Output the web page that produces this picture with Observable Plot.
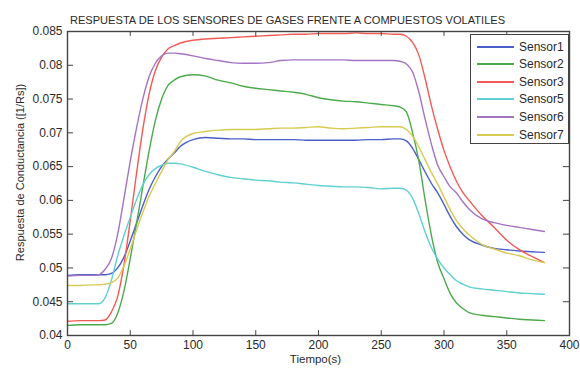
<!DOCTYPE html>
<html>
<head>
<meta charset="utf-8">
<script src="https://cdn.jsdelivr.net/npm/d3@7"></script>
<script src="https://cdn.jsdelivr.net/npm/@observablehq/plot@0.6"></script>
<style>
  body { margin: 0; background: #fff; font-family: "Liberation Sans", Arial, sans-serif; }
  #wrap { position: relative; width: 580px; height: 371px; }
  #legend { position: absolute; left: 470px; top: 34px; width: 97px; height: 108px; border: 1.5px solid #444; background: #fff; }
  .row { position: absolute; left: 0; height: 16px; display: flex; align-items: center; font-size: 12px; color: #2a2a2a; }
  .sw { width: 37px; height: 0; border-top: 2px solid; margin-left: 6px; margin-right: 5px; }
</style>
</head>
<body>
<div id="wrap"><div id="legend"></div></div>
<script>
const title = "RESPUESTA DE LOS SENSORES DE GASES FRENTE A COMPUESTOS VOLATILES";
const xLabel = "Tiempo(s)";
const yLabel = "Respuesta de Conductancia ([1/Rs])";
const xTicks = [0, 50, 100, 150, 200, 250, 300, 350, 400];
const yTicks = [0.04, 0.045, 0.05, 0.055, 0.06, 0.065, 0.07, 0.075, 0.08, 0.085];
const sensors = ["Sensor1", "Sensor2", "Sensor3", "Sensor5", "Sensor6", "Sensor7"];
const colors = ["#4b5fc8", "#4caa4c", "#f25a55", "#60d0d2", "#a474c4", "#d6ca50"];

const time = [0,10,20,25,30,35,40,45,50,55,60,65,70,75,80,85,90,100,110,120,130,140,150,160,170,180,190,200,210,220,230,240,250,260,265,270,275,280,285,290,295,300,305,310,315,320,330,340,350,360,370,380];

const sensor1 = [0.0489,0.0490,0.0490,0.0490,0.0490,0.0492,0.0500,0.0516,0.0540,0.0566,0.0592,0.0616,0.0635,0.0650,0.0661,0.0670,0.0680,0.0690,0.0693,0.0692,0.0691,0.0691,0.0690,0.0690,0.0690,0.0690,0.0689,0.0689,0.0689,0.0689,0.0689,0.0690,0.0690,0.0691,0.0691,0.0688,0.0677,0.0660,0.0642,0.0625,0.0611,0.0594,0.0576,0.0561,0.0550,0.0542,0.0534,0.0529,0.0527,0.0525,0.0524,0.0523];
const sensor2 = [0.0415,0.0416,0.0416,0.0416,0.0416,0.0418,0.0433,0.0466,0.0514,0.0566,0.0620,0.0673,0.0718,0.0750,0.0770,0.0778,0.0783,0.0786,0.0784,0.0778,0.0774,0.0769,0.0766,0.0764,0.0762,0.0760,0.0757,0.0752,0.0749,0.0747,0.0746,0.0744,0.0742,0.0740,0.0738,0.0731,0.0700,0.0658,0.0600,0.0548,0.0508,0.0484,0.0462,0.0448,0.0440,0.0434,0.0430,0.0428,0.0426,0.0424,0.0423,0.0422];
const sensor3 = [0.0421,0.0422,0.0422,0.0422,0.0423,0.0435,0.0458,0.0505,0.0570,0.0640,0.0705,0.0757,0.0792,0.0812,0.0824,0.0829,0.0833,0.0837,0.0839,0.0840,0.0841,0.0842,0.0843,0.0844,0.0845,0.0846,0.0846,0.0847,0.0847,0.0847,0.0848,0.0847,0.0847,0.0846,0.0846,0.0843,0.0834,0.0815,0.0780,0.0740,0.0705,0.0674,0.0649,0.0628,0.0612,0.0600,0.0578,0.0560,0.0541,0.0527,0.0517,0.0508];
const sensor5 = [0.0447,0.0447,0.0447,0.0447,0.0456,0.0482,0.0518,0.0548,0.0575,0.0601,0.0623,0.0638,0.0647,0.0652,0.0655,0.0655,0.0654,0.0649,0.0643,0.0638,0.0634,0.0632,0.0630,0.0629,0.0627,0.0626,0.0624,0.0622,0.0621,0.0620,0.0620,0.0619,0.0617,0.0618,0.0618,0.0615,0.0603,0.0580,0.0553,0.0530,0.0513,0.0500,0.0490,0.0481,0.0476,0.0472,0.0469,0.0467,0.0465,0.0463,0.0462,0.0461];
const sensor6 = [0.0488,0.0489,0.0489,0.0490,0.0498,0.0514,0.0550,0.0603,0.0658,0.0707,0.0750,0.0783,0.0803,0.0814,0.0818,0.0818,0.0817,0.0814,0.0810,0.0807,0.0804,0.0803,0.0803,0.0804,0.0807,0.0808,0.0808,0.0808,0.0808,0.0808,0.0807,0.0807,0.0807,0.0807,0.0806,0.0802,0.0790,0.0760,0.0720,0.0683,0.0652,0.0635,0.0620,0.0611,0.0598,0.0587,0.0573,0.0567,0.0563,0.0560,0.0557,0.0554];
const sensor7 = [0.0474,0.0474,0.0475,0.0475,0.0476,0.0478,0.0485,0.0503,0.0528,0.0556,0.0582,0.0606,0.0625,0.0643,0.0660,0.0672,0.0687,0.0699,0.0702,0.0704,0.0705,0.0705,0.0705,0.0706,0.0707,0.0707,0.0708,0.0709,0.0707,0.0706,0.0707,0.0708,0.0709,0.0709,0.0709,0.0705,0.0695,0.0679,0.0660,0.0641,0.0624,0.0605,0.0586,0.0570,0.0558,0.0549,0.0535,0.0528,0.0522,0.0518,0.0512,0.0508];

const series = [sensor1, sensor2, sensor3, sensor5, sensor6, sensor7];
const data = [];
series.forEach((vals, i) => vals.forEach((v, j) => data.push({sensor: sensors[i], t: time[j], v})));

const xMin = 0, xMax = 400, yMin = 0.04, yMax = 0.085;
const tickX = (xMax - xMin) * 0.012;
const tickY = (yMax - yMin) * 0.016;

const chart = Plot.plot({
  width: 580,
  height: 371,
  marginLeft: 67,
  marginRight: 11,
  marginTop: 31,
  marginBottom: 36,
  style: {fontFamily: "'Liberation Sans', Arial, sans-serif", fontSize: "12px", color: "#2a2a2a", background: "#fff"},
  x: {domain: [xMin, xMax], label: null},
  y: {domain: [yMin, yMax], label: null},
  color: {domain: sensors, range: colors},
  marks: [
    Plot.line(data, {x: "t", y: "v", stroke: "sensor", z: "sensor", strokeWidth: 1.4, curve: "monotone-x"}),
    Plot.ruleX(xTicks, {x: d => d, y1: yMin, y2: yMin + tickY, stroke: "#444"}),
    Plot.ruleX(xTicks, {x: d => d, y1: yMax, y2: yMax - tickY, stroke: "#444"}),
    Plot.ruleY(yTicks, {y: d => d, x1: xMin, x2: xMin + tickX, stroke: "#444"}),
    Plot.ruleY(yTicks, {y: d => d, x1: xMax, x2: xMax - tickX, stroke: "#444"}),
    Plot.frame({stroke: "#444", strokeWidth: 1.4}),
    Plot.axisX(xTicks, {tickSize: 0, tickPadding: 5, tickFormat: d => String(d), fill: "#2a2a2a"}),
    Plot.axisY(yTicks, {tickSize: 0, tickPadding: 5, tickFormat: d => String(d), fill: "#2a2a2a"}),
    Plot.text([title], {text: d => d, frameAnchor: "top", dx: -31, dy: -15, fontSize: 11.1, fill: "#2a2a2a"}),
    Plot.text([xLabel], {text: d => d, frameAnchor: "bottom", dx: -3, dy: 27, fontSize: 11.5, fill: "#2a2a2a"}),
    Plot.text([yLabel], {text: d => d, frameAnchor: "left", textAnchor: "middle", dx: -47, dy: -11, rotate: -90, fontSize: 11, fill: "#2a2a2a"})
  ]
});
document.getElementById("wrap").prepend(chart);

const legend = document.getElementById("legend");
sensors.forEach((s, i) => {
  const row = document.createElement("div");
  row.className = "row";
  row.style.top = (3.5 + i * 17.6) + "px";
  const sw = document.createElement("div");
  sw.className = "sw";
  sw.style.borderTopColor = colors[i];
  const lab = document.createElement("span");
  lab.textContent = s;
  row.appendChild(sw);
  row.appendChild(lab);
  legend.appendChild(row);
});
</script>
</body>
</html>
